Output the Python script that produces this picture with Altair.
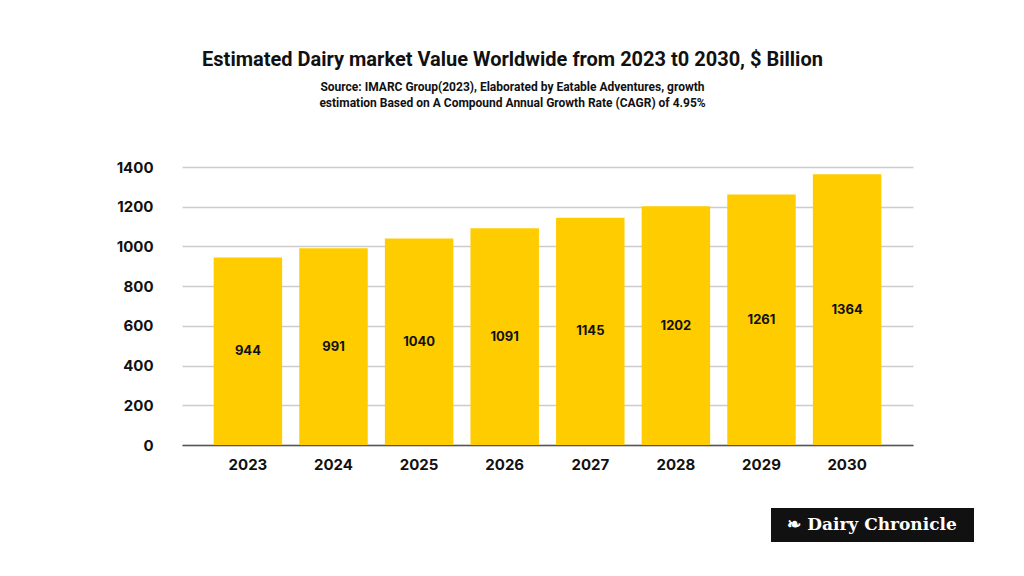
import altair as alt
import pandas as pd

years = ["2023", "2024", "2025", "2026", "2027", "2028", "2029", "2030"]
values = [944, 991, 1040, 1091, 1145, 1202, 1261, 1364]
y_ticks = [0, 200, 400, 600, 800, 1000, 1200, 1400]

df = pd.DataFrame({"year": years, "value": values})
df["mid"] = df["value"] / 2

title_text = "Estimated Dairy market Value Worldwide from 2023 t0 2030, $ Billion"
subtitle_lines = [
    "Source: IMARC Group(2023), Elaborated by Eatable Adventures, growth",
    "estimation Based on A Compound Annual Growth Rate (CAGR) of 4.95%",
]

base = alt.Chart(df)

x_axis = alt.Axis(
    labelAngle=0,
    labelFont="Inter",
    labelFontWeight="bold",
    labelFontSize=15,
    labelColor="#111111",
    labelPadding=12,
    ticks=False,
    domain=True,
    domainColor="#555555",
    domainWidth=1.5,
    grid=False,
)
y_axis = alt.Axis(
    values=y_ticks,
    tickCount=8,
    format="d",
    labelOverlap=False,
    labelFont="Inter",
    labelFontWeight="bold",
    labelFontSize=15,
    labelColor="#111111",
    labelPadding=29,
    ticks=False,
    domain=False,
    grid=True,
    gridColor="#cccccc",
    gridWidth=1.5,
)
x_scale = alt.Scale(paddingInner=0.2, paddingOuter=0.37)
y_scale = alt.Scale(domain=[0, 1400], nice=False)

bars = base.mark_bar(color="#FFCC00").encode(
    x=alt.X("year:N", sort=years, title=None, scale=x_scale, axis=x_axis),
    y=alt.Y("value:Q", title=None, scale=y_scale, axis=y_axis),
)

labels = base.mark_text(
    font="Inter", fontWeight="bold", fontSize=13, color="#111111", baseline="middle"
).encode(
    x=alt.X("year:N", sort=years, title=None, scale=x_scale, axis=x_axis),
    y=alt.Y("mid:Q", title=None, scale=y_scale, axis=y_axis),
    text=alt.Text("value:Q"),
)

logo_bg = alt.Chart(pd.DataFrame({"a": [0]})).mark_rect(color="#111111").encode(
    x=alt.value(589), x2=alt.value(792), y=alt.value(341), y2=alt.value(375)
)
logo_txt = alt.Chart(pd.DataFrame({"t": ["\u2767 Dairy Chronicle"]})).mark_text(
    font="DejaVu Serif", fontWeight="bold", fontSize=17, color="#ffffff", align="center", baseline="middle"
).encode(x=alt.value(690), y=alt.value(358), text="t:N")

chart = (
    alt.layer(bars, labels, logo_bg, logo_txt)
    .properties(
        width=731,
        height=278,
        background="white",
        autosize=alt.AutoSizeParams(type="none"),
        padding={"left": 174, "top": 159, "right": 103, "bottom": 131},
        title=alt.TitleParams(
            text=title_text,
            subtitle=subtitle_lines,
            anchor="middle",
            dx=-35,
            offset=51,
            font="Roboto",
            fontSize=20,
            fontWeight="bold",
            color="#111111",
            subtitleFont="Roboto",
            subtitleFontSize=12,
            subtitleFontWeight="bold",
            subtitleColor="#111111",
            subtitlePadding=12,
            subtitleLineHeight=16,
        ),
    )
    .configure_view(stroke="transparent", strokeWidth=0)
)

chart.save("out.html", embed_options={"renderer": "svg", "actions": False})
